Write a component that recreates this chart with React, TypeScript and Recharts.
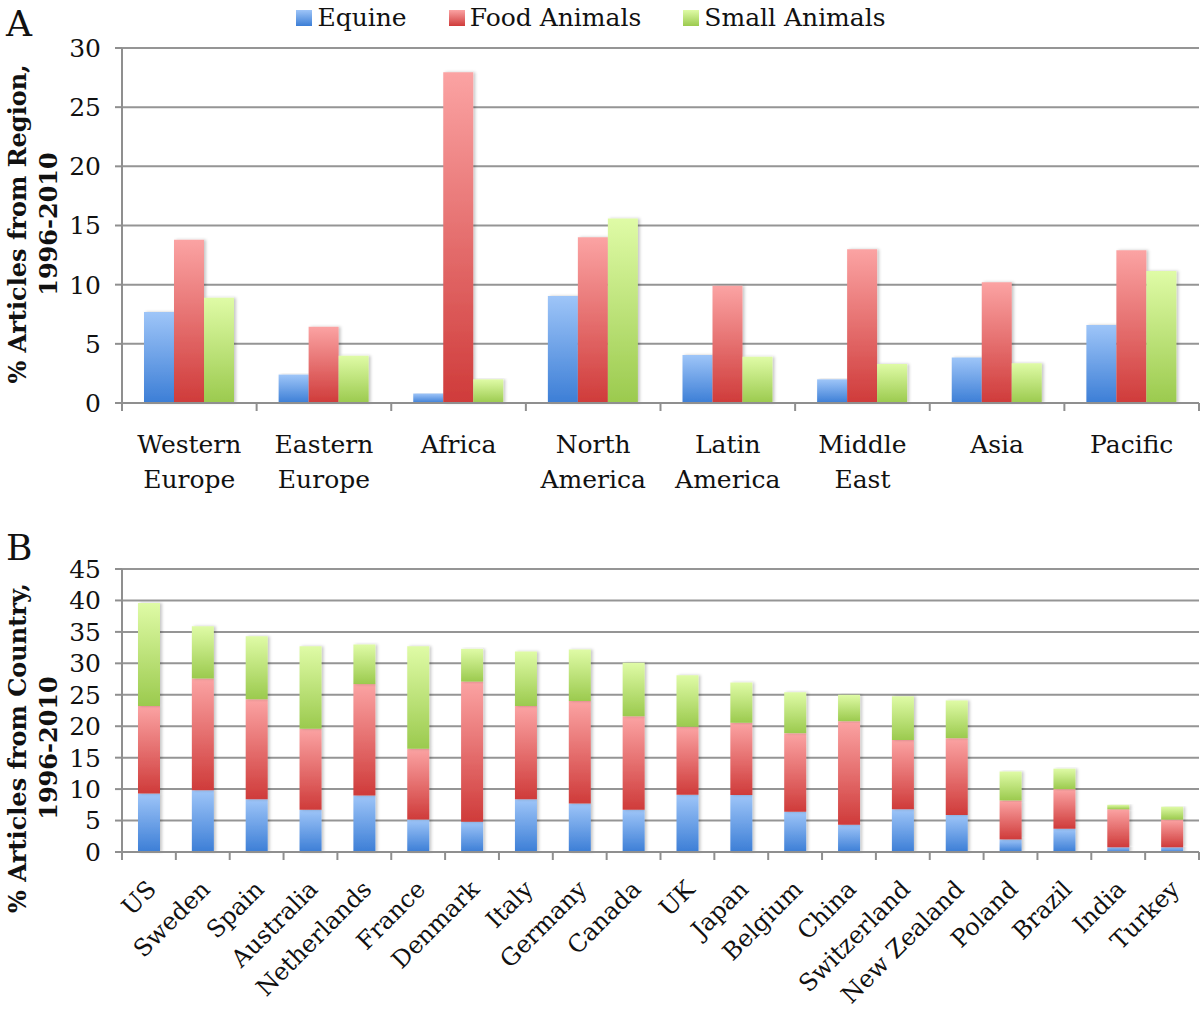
import React from "react";
import { BarChart, Bar, XAxis, YAxis, CartesianGrid } from "recharts";

// ---------- data ----------
const seriesNames = ["Equine", "Food Animals", "Small Animals"];
const panelLetters = ["A", "B"];

const regions = [
  "Western Europe",
  "Eastern Europe",
  "Africa",
  "North America",
  "Latin America",
  "Middle East",
  "Asia",
  "Pacific",
];
const regionEquine = [7.7, 2.4, 0.8, 9.05, 4.05, 2.0, 3.85, 6.6];
const regionFood = [13.8, 6.45, 27.95, 14.0, 9.9, 13.0, 10.2, 12.9];
const regionSmall = [8.9, 4.0, 2.0, 15.6, 3.9, 3.3, 3.35, 11.15];
const regionTicks = [0, 5, 10, 15, 20, 25, 30];

const countries = [
  "US",
  "Sweden",
  "Spain",
  "Australia",
  "Netherlands",
  "France",
  "Denmark",
  "Italy",
  "Germany",
  "Canada",
  "UK",
  "Japan",
  "Belgium",
  "China",
  "Switzerland",
  "New Zealand",
  "Poland",
  "Brazil",
  "India",
  "Turkey",
];
const countryEquine = [9.3, 9.8, 8.4, 6.7, 9.0, 5.15, 4.8, 8.4, 7.7, 6.7, 9.1, 9.05, 6.4, 4.35, 6.8, 5.9, 2.0, 3.7, 0.75, 0.75];
const countryFood = [13.9, 17.8, 15.9, 12.9, 17.7, 11.25, 22.3, 14.8, 16.3, 14.9, 10.8, 11.5, 12.5, 16.45, 11.0, 12.2, 6.2, 6.3, 6.05, 4.4];
const countrySmall = [16.4, 8.3, 10.0, 13.1, 6.3, 16.3, 5.2, 8.7, 8.2, 8.5, 8.2, 6.4, 6.5, 4.2, 6.95, 6.0, 4.6, 3.25, 0.7, 2.05];
const countryTicks = [0, 5, 10, 15, 20, 25, 30, 35, 40, 45];

const regionData = regions.map((name, i) => ({
  name,
  equine: regionEquine[i],
  food: regionFood[i],
  small: regionSmall[i],
}));
const countryData = countries.map((name, i) => ({
  name,
  equine: countryEquine[i],
  food: countryFood[i],
  small: countrySmall[i],
}));

// ---------- style ----------
const FONT = "'DejaVu Serif', serif";
const AXIS = "#8f8f8f";
const GRID = "#959595";
const W = 1200;
const Y_AXIS_W = 122;
const RIGHT = 1;
const PLOT_W = W - Y_AXIS_W - RIGHT;
const BAND_A = PLOT_W / regions.length;
const BAND_B = PLOT_W / countries.length;

const gradients = [
  { id: "gEq", top: "#9ec5f8", bottom: "#3c7ed6" },
  { id: "gFood", top: "#fba3a3", bottom: "#cf3b3a" },
  { id: "gSmall", top: "#dffba6", bottom: "#9bca4e" },
];

const Defs = () => (
  <defs>
    {gradients.map((g) => (
      <linearGradient key={g.id} id={g.id} x1="0" y1="0" x2="0" y2="1">
        <stop offset="0%" stopColor={g.top} />
        <stop offset="100%" stopColor={g.bottom} />
      </linearGradient>
    ))}
    <filter id="barShadow" x="-20%" y="-5%" width="150%" height="110%">
      <feDropShadow dx="2" dy="0" stdDeviation="1.5" floodColor="#000" floodOpacity="0.22" />
    </filter>
  </defs>
);

function RegionTick(props: any) {
  const { x, y, payload, index } = props;
  const half = BAND_A / 2;
  const words = String(payload.value).split(" ");
  return (
    <g>
      <line x1={x - half} x2={x - half} y1={y} y2={y + 8} stroke={AXIS} strokeWidth={2} />
      {index === regions.length - 1 && (
        <line x1={x + half} x2={x + half} y1={y} y2={y + 8} stroke={AXIS} strokeWidth={2} />
      )}
      {words.map((w, i) => (
        <text
          key={i}
          x={x}
          y={y + 50 + i * 35}
          textAnchor="middle"
          fontSize={25}
          fontFamily={FONT}
          fill="#111"
        >
          {w}
        </text>
      ))}
    </g>
  );
}

function CountryTick(props: any) {
  const { x, y, payload, index } = props;
  const half = BAND_B / 2;
  return (
    <g>
      <line x1={x - half} x2={x - half} y1={y} y2={y + 8} stroke={AXIS} strokeWidth={2} />
      {index === countries.length - 1 && (
        <line x1={x + half} x2={x + half} y1={y} y2={y + 8} stroke={AXIS} strokeWidth={2} />
      )}
      <text
        transform={`translate(${x - 4},${y + 26}) rotate(-45)`}
        dy="0.75em"
        textAnchor="end"
        fontSize={24}
        fontFamily={FONT}
        fill="#111"
      >
        {payload.value}
      </text>
    </g>
  );
}

const yLabel = (l1: string, l2: string, cy: number) => () => (
  <g>
    <text
      transform={`translate(26,${cy}) rotate(-90)`}
      textAnchor="middle"
      fontWeight="bold"
      fontSize={24}
      fontFamily={FONT}
      fill="#111"
    >
      {l1}
    </text>
    <text
      transform={`translate(57,${cy}) rotate(-90)`}
      textAnchor="middle"
      fontWeight="bold"
      fontSize={24}
      fontFamily={FONT}
      fill="#111"
    >
      {l2}
    </text>
  </g>
);

const yTickStyle = { fontSize: 25, fontFamily: FONT, fill: "#111" };

export default function App() {
  return (
    <div
      style={{
        position: "absolute",
        left: 0,
        top: 0,
        width: W,
        height: 1011,
        background: "#fff",
        fontFamily: FONT,
        overflow: "hidden",
      }}
    >
      {/* Panel letters */}
      <svg width={60} height={600} style={{ position: "absolute", left: 0, top: 0, zIndex: 3 }}>
        <text x={6} y={36} fontSize={36} fontFamily={FONT} fill="#111">
          {panelLetters[0]}
        </text>
        <text x={6} y={560} fontSize={36} fontFamily={FONT} fill="#111">
          {panelLetters[1]}
        </text>
      </svg>

      {/* Legend */}
      <div
        style={{
          position: "absolute",
          top: 2,
          left: 0,
          width: 1182,
          display: "flex",
          justifyContent: "center",
          gap: 42,
          fontSize: 25,
          lineHeight: "32px",
          color: "#111",
          zIndex: 2,
        }}
      >
        {seriesNames.map((n, i) => (
          <div key={n} style={{ display: "flex", alignItems: "center" }}>
            <span
              style={{
                display: "inline-block",
                width: 16,
                height: 16,
                marginRight: 5,
                background: `linear-gradient(${gradients[i].top}, ${gradients[i].bottom})`,
              }}
            />
            <span>{n}</span>
          </div>
        ))}
      </div>

      {/* Panel A */}
      <div style={{ position: "absolute", left: 0, top: 0 }}>
        <BarChart
          width={W}
          height={500}
          data={regionData}
          margin={{ top: 48, right: RIGHT, bottom: 0, left: 0 }}
          barGap={0}
        >
          <Defs />
          <CartesianGrid vertical={false} stroke={GRID} strokeWidth={2} />
          <XAxis
            dataKey="name"
            height={97}
            interval={0}
            tickLine={false}
            tickSize={0}
            tickMargin={0}
            axisLine={{ stroke: AXIS, strokeWidth: 2 }}
            tick={<RegionTick />}
          />
          <YAxis
            width={Y_AXIS_W}
            domain={[0, 30]}
            ticks={regionTicks}
            interval={0}
            tickSize={7}
            tickMargin={14}
            tickLine={{ stroke: AXIS, strokeWidth: 2 }}
            axisLine={{ stroke: AXIS, strokeWidth: 2 }}
            tick={yTickStyle}
            label={{ content: yLabel("% Articles from Region,", "1996-2010", 224) }}
          />
          <Bar dataKey="equine" name={seriesNames[0]} fill="url(#gEq)" filter="url(#barShadow)" barSize={30} isAnimationActive={false} />
          <Bar dataKey="food" name={seriesNames[1]} fill="url(#gFood)" filter="url(#barShadow)" barSize={30} isAnimationActive={false} />
          <Bar dataKey="small" name={seriesNames[2]} fill="url(#gSmall)" filter="url(#barShadow)" barSize={30} isAnimationActive={false} />
        </BarChart>
      </div>

      {/* Panel B */}
      <div style={{ position: "absolute", left: 0, top: 500 }}>
        <BarChart
          width={W}
          height={511}
          data={countryData}
          margin={{ top: 69, right: RIGHT, bottom: 0, left: 0 }}
        >
          <Defs />
          <CartesianGrid vertical={false} stroke={GRID} strokeWidth={2} />
          <XAxis
            dataKey="name"
            height={159}
            interval={0}
            tickLine={false}
            tickSize={0}
            tickMargin={0}
            axisLine={{ stroke: AXIS, strokeWidth: 2 }}
            tick={<CountryTick />}
          />
          <YAxis
            width={Y_AXIS_W}
            domain={[0, 45]}
            ticks={countryTicks}
            interval={0}
            tickSize={7}
            tickMargin={14}
            tickLine={{ stroke: AXIS, strokeWidth: 2 }}
            axisLine={{ stroke: AXIS, strokeWidth: 2 }}
            tick={yTickStyle}
            label={{ content: yLabel("% Articles from Country,", "1996-2010", 248) }}
          />
          <Bar dataKey="equine" stackId="s" name={seriesNames[0]} fill="url(#gEq)" filter="url(#barShadow)" barSize={22} isAnimationActive={false} />
          <Bar dataKey="food" stackId="s" name={seriesNames[1]} fill="url(#gFood)" filter="url(#barShadow)" barSize={22} isAnimationActive={false} />
          <Bar dataKey="small" stackId="s" name={seriesNames[2]} fill="url(#gSmall)" filter="url(#barShadow)" barSize={22} isAnimationActive={false} />
        </BarChart>
      </div>
    </div>
  );
}
